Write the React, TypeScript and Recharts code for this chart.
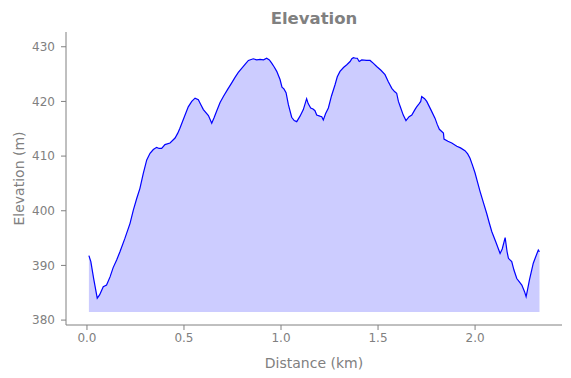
import { AreaChart, Area, XAxis, YAxis } from 'recharts'

// distance along the track (km)
const distance = [
  0.01, 0.02, 0.035, 0.053, 0.065, 0.084, 0.101, 0.119, 0.135, 0.153, 0.17, 0.195, 0.222, 0.239, 0.256,
  0.273, 0.29, 0.308, 0.325, 0.342, 0.359, 0.372, 0.385, 0.402, 0.428, 0.454, 0.468, 0.479, 0.5, 0.522,
  0.54, 0.557, 0.574, 0.587, 0.6, 0.626, 0.643, 0.655, 0.668, 0.686, 0.703, 0.725, 0.746, 0.763, 0.78,
  0.806, 0.82, 0.832, 0.857, 0.875, 0.892, 0.91, 0.926, 0.94, 0.952, 0.965, 0.978, 0.995, 1.005, 1.015,
  1.026, 1.038, 1.055, 1.068, 1.081, 1.098, 1.115, 1.132, 1.14, 1.153, 1.165, 1.175, 1.184, 1.2, 1.21,
  1.218, 1.23, 1.244, 1.26, 1.278, 1.29, 1.304, 1.322, 1.339, 1.356, 1.365, 1.373, 1.385, 1.393, 1.403,
  1.416, 1.44, 1.459, 1.475, 1.493, 1.515, 1.536, 1.553, 1.571, 1.585, 1.596, 1.605, 1.617, 1.63, 1.644,
  1.66, 1.674, 1.69, 1.699, 1.712, 1.72, 1.725, 1.74, 1.751, 1.772, 1.794, 1.805, 1.816, 1.837, 1.84,
  1.86, 1.88, 1.906, 1.925, 1.948, 1.962, 1.974, 1.987, 2.0, 2.013, 2.026, 2.043, 2.06, 2.073, 2.086,
  2.108, 2.129, 2.14, 2.155, 2.165, 2.172, 2.189, 2.2, 2.215, 2.241, 2.255, 2.263, 2.27, 2.28, 2.3,
  2.315, 2.326, 2.332,
]

// elevation (m)
const elevation = [
  391.8, 390.7, 387.5, 384.0, 384.6, 386.1, 386.4, 387.9, 389.6, 391.0, 392.5, 394.9, 397.7, 400.1, 402.2,
  404.1, 406.8, 409.3, 410.5, 411.2, 411.6, 411.4, 411.4, 412.1, 412.4, 413.3, 414.2, 415.1, 417.0, 419.0,
  420.0, 420.6, 420.3, 419.4, 418.5, 417.4, 416.0, 417.0, 418.2, 419.8, 420.9, 422.2, 423.4, 424.4, 425.3,
  426.4, 427.0, 427.5, 427.8, 427.6, 427.7, 427.6, 427.9, 427.6, 427.0, 426.3, 425.5, 424.0, 422.6, 422.3,
  421.6, 419.4, 417.1, 416.5, 416.3, 417.3, 418.5, 420.5, 419.6, 418.8, 418.6, 418.3, 417.5, 417.3, 417.2,
  416.6, 417.8, 418.8, 421.0, 423.0, 424.5, 425.5, 426.2, 426.7, 427.3, 427.8, 428.0, 427.9, 427.9, 427.3,
  427.6, 427.5, 427.5, 427.0, 426.4, 425.7, 424.9, 423.6, 422.4, 421.8, 421.5, 420.0, 418.8, 417.5, 416.5,
  417.2, 417.5, 418.5, 419.0, 419.6, 420.0, 420.9, 420.5, 420.0, 418.5, 416.9, 415.8, 414.9, 414.2, 413.1,
  412.7, 412.4, 411.8, 411.5, 411.0, 410.4, 409.6, 408.3, 406.9, 405.2, 403.5, 401.5, 399.5, 397.8, 396.2,
  394.2, 392.2, 393.0, 395.1, 392.5, 391.3, 390.7, 389.2, 387.6, 386.4, 385.2, 384.3, 385.5, 387.3, 390.4,
  391.8, 392.8, 392.5,
]

const xTicks = [0, 0.5, 1, 1.5, 2]
const yTicks = [380, 390, 400, 410, 420, 430]
const FILL_BASE = 381.5

const data = distance.map((d, i) => ({ d, e: elevation[i] }))

const GREY = '#808080'
const FONT = '"DejaVu Sans", sans-serif'

export default function App() {
  return (
    <div style={{ position: 'relative', width: 571, height: 378, margin: -8, fontFamily: FONT }}>
      <div
        style={{
          position: 'absolute',
          left: 66,
          width: 496,
          top: 9,
          textAlign: 'center',
          fontSize: 16.5,
          fontWeight: 'bold',
          color: GREY,
        }}
      >
        Elevation
      </div>
      <AreaChart width={571} height={378} data={data} margin={{ top: 32, right: 9, bottom: 0, left: 0 }}>
        <XAxis
          dataKey="d"
          type="number"
          domain={[-0.108, 2.448]}
          allowDataOverflow
          ticks={xTicks}
          tickFormatter={(v: number) => v.toFixed(1)}
          height={53}
          tickSize={5}
          tickMargin={3}
          stroke={GREY}
          tick={{ fill: GREY, fontSize: 12, fontFamily: FONT }}
          label={{ value: 'Distance (km)', position: 'insideBottom', offset: 10, fill: GREY, fontSize: 14, fontFamily: FONT }}
        />
        <YAxis
          type="number"
          domain={[379.1, 432.7]}
          allowDataOverflow
          ticks={yTicks}
          width={66}
          tickSize={5}
          tickMargin={6}
          stroke={GREY}
          tick={{ fill: GREY, fontSize: 12, fontFamily: FONT }}
          label={{ value: 'Elevation (m)', angle: -90, position: 'insideLeft', offset: 19, fill: GREY, fontSize: 14, fontFamily: FONT, style: { textAnchor: 'middle' } }}
        />
        <Area
          type="linear"
          dataKey="e"
          baseValue={FILL_BASE}
          stroke="#0000ff"
          strokeWidth={1.2}
          fill="#0000ff"
          fillOpacity={0.2}
          dot={false}
          activeDot={false}
          isAnimationActive={false}
        />
      </AreaChart>
    </div>
  )
}
